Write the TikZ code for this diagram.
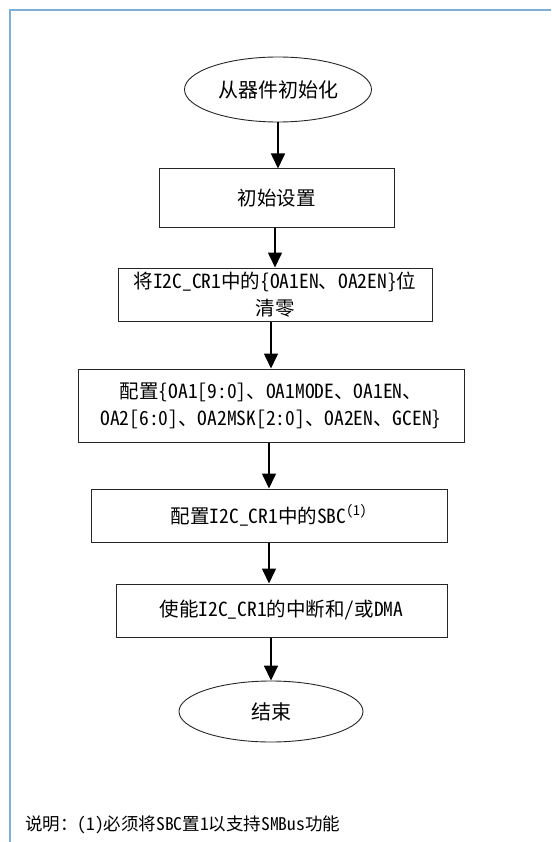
\documentclass[tikz,border=0pt]{standalone}
\usepackage{fontspec}
\setmainfont[RawFeature=+hwid]{Noto Sans CJK SC}
\usepackage{xcolor}
\usetikzlibrary{shapes.geometric,arrows.meta}
\definecolor{framecol}{RGB}{125,175,215}

\begin{document}
\begin{tikzpicture}[x=1pt,y=-1pt,>={Triangle[width=14pt,length=15pt]},
  box/.style={draw=black!85,line width=1pt,inner sep=0pt,align=center,font=\fontsize{19.5}{27}\selectfont},
  term/.style={draw=black!85,ellipse,line width=0.9pt,inner sep=0pt,font=\fontsize{20}{24}\selectfont},
  arr/.style={->,line width=1.6pt}]
  \useasboundingbox (0,0) rectangle (551,842);
  % cornice
  \draw[line width=1.5pt,framecol] (551,10) -- (10,10) -- (10,842);
  % inizio e fine
  \node[term,minimum width=187,minimum height=65] (ell1) at (278,89.5) {从器件初始化};
  \node[term,minimum width=184,minimum height=61] (ell2) at (271,711.5) {结束};
  % passi
  \node[box,minimum width=235,minimum height=58] (box1) at (276.5,198) {初始设置};
  \node[box,minimum width=314,minimum height=53] (box2) at (275,294.5) {将I2C\_CR1中的\{OA1EN、OA2EN\}位\\清零};
  \node[box,minimum width=386,minimum height=73] (box3) at (271,405.5) {配置\{OA1[9:0]、OA1MODE、OA1EN、\\OA2[6:0]、OA2MSK[2:0]、OA2EN、GCEN\}};
  \node[box,minimum width=356,minimum height=53] (box4) at (269,515.5) {配置I2C\_CR1中的SBC\textsuperscript{(1)}};
  \node[box,minimum width=331,minimum height=53] (box5) at (281.5,610.5) {使能I2C\_CR1的中断和/或DMA};
  % frecce
  \draw[arr] (ell1.south) -- (ell1.south |- box1.north);
  \draw[arr] (box1.south -| box2.north) -- (box2.north);
  \draw[arr] (box2.south -| box3.north) -- (box3.north);
  \draw[arr] (box3.south -| box4.north) -- (box4.north);
  \draw[arr] (box4.south) -- (box4.south |- box5.north);
  \draw[arr] (box5.south -| ell2.north) -- (ell2.north);
  % nota
  \node[anchor=west,inner sep=0pt,font=\fontsize{17.5}{20}\selectfont] (note) at (25,825) {说明：(1)必须将SBC置1以支持SMBus功能};
\end{tikzpicture}
\end{document}
